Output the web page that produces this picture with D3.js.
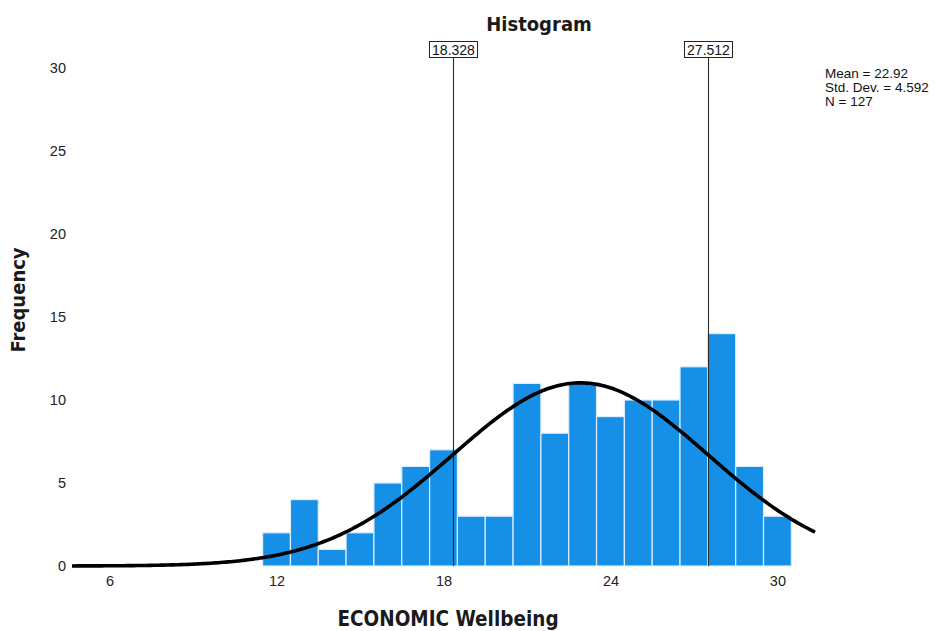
<!DOCTYPE html>
<html>
<head>
<meta charset="utf-8">
<script src="https://cdn.jsdelivr.net/npm/d3@7"></script>
<style>
  body { margin: 0; background: #fff; }
  svg { display: block; }
</style>
</head>
<body>
<svg id="chart" width="947" height="631"></svg>
<script>
// ---- data ----
const binCenters = [12, 13, 14, 15, 16, 17, 18, 19, 20, 21, 22, 23, 24, 25, 26, 27, 28, 29, 30];
const counts     = [2, 4, 1, 2, 5, 6, 7, 3, 3, 11, 8, 11, 9, 10, 10, 12, 14, 6, 3];
const binWidth = 1;
const refLines = [18.328, 27.512];
const refLabels = ["18.328", "27.512"];
const meanVal = 22.92;
const sdVal = 4.592;
const nVal = 127;
const statLabels = ["Mean = 22.92", "Std. Dev. = 4.592", "N = 127"];
const xTicks = [6, 12, 18, 24, 30];
const yTicks = [0, 5, 10, 15, 20, 25, 30];
const titleText = "Histogram";
const xTitle = "ECONOMIC Wellbeing";
const yTitle = "Frequency";

// ---- layout ----
const svg = d3.select("#chart");
const x = d3.scaleLinear().domain([4.65, 31.35]).range([72, 815]);
const y = d3.scaleLinear().domain([0, 30]).range([566, 68]);

const boldFont = "'DejaVu Sans Condensed', 'DejaVu Sans', sans-serif";
const plainFont = "'Liberation Sans', Arial, sans-serif";

// title
svg.append("text")
  .attr("x", 539).attr("y", 31)
  .attr("text-anchor", "middle")
  .attr("font-family", boldFont).attr("font-weight", "bold")
  .attr("font-stretch", "condensed")
  .attr("font-size", 20).attr("fill", "#1a1a1a")
  .text(titleText);

// bars
svg.append("g").selectAll("rect")
  .data(binCenters.map((c, i) => ({c, v: counts[i]})))
  .join("rect")
  .attr("x", d => x(d.c - binWidth / 2))
  .attr("width", d => x(d.c + binWidth / 2) - x(d.c - binWidth / 2))
  .attr("y", d => y(d.v))
  .attr("height", d => y(0) - y(d.v))
  .attr("fill", "#1590e6")
  .attr("stroke", "#dcedfb")
  .attr("stroke-width", 1.2);

// reference lines with labels
const refG = svg.append("g");
refLines.forEach((v, i) => {
  const px = Math.round(x(v)) + 0.5;
  refG.append("line")
    .attr("x1", px).attr("x2", px)
    .attr("y1", 58).attr("y2", y(0))
    .attr("stroke", "#2a2a2a").attr("stroke-width", 1.1);
  const t = refG.append("text")
    .attr("x", px).attr("y", 55)
    .attr("text-anchor", "middle")
    .attr("font-family", plainFont).attr("font-size", 14)
    .attr("fill", "#111")
    .text(refLabels[i]);
  const bb = t.node().getBBox();
  refG.insert("rect", "text")
    .attr("x", px - bb.width / 2 - 2.5).attr("y", 41.5)
    .attr("width", bb.width + 5).attr("height", 16)
    .attr("fill", "#fff").attr("stroke", "#222").attr("stroke-width", 1);
});

// normal curve
const pts = d3.range(0, 301).map(i => {
  const xv = 4.65 + (31.35 - 4.65) * i / 300;
  const z = (xv - meanVal) / sdVal;
  const yv = nVal * binWidth / (sdVal * Math.sqrt(2 * Math.PI)) * Math.exp(-0.5 * z * z);
  return [xv, yv];
});
svg.append("path")
  .datum(pts)
  .attr("d", d3.line().x(d => x(d[0])).y(d => y(d[1])))
  .attr("fill", "none").attr("stroke", "#000").attr("stroke-width", 3.6);

// y axis (labels only)
const yAxis = d3.axisLeft(y).tickValues(yTicks).tickSize(0).tickPadding(0);
const yg = svg.append("g").attr("transform", "translate(66,0)").call(yAxis);
yg.select(".domain").remove();
yg.selectAll("text").attr("font-family", plainFont).attr("font-size", 14.5).attr("fill", "#222");

// x axis (labels only)
const xAxis = d3.axisBottom(x).tickValues(xTicks).tickSize(0).tickPadding(10);
const xg = svg.append("g").attr("transform", `translate(0,${y(0)})`).call(xAxis);
xg.select(".domain").remove();
xg.selectAll("text").attr("font-family", plainFont).attr("font-size", 14.5).attr("fill", "#222");

// axis titles
svg.append("text")
  .attr("x", 448).attr("y", 626)
  .attr("text-anchor", "middle")
  .attr("font-family", boldFont).attr("font-weight", "bold")
  .attr("font-stretch", "condensed")
  .attr("font-size", 20.5).attr("fill", "#1a1a1a")
  .text(xTitle);

svg.append("text")
  .attr("transform", "translate(25,300) rotate(-90)")
  .attr("text-anchor", "middle")
  .attr("font-family", boldFont).attr("font-weight", "bold")
  .attr("font-stretch", "condensed")
  .attr("font-size", 20).attr("fill", "#1a1a1a")
  .text(yTitle);

// stats legend
svg.append("g").selectAll("text")
  .data(statLabels)
  .join("text")
  .attr("x", 825)
  .attr("y", (d, i) => 78 + i * 14)
  .attr("font-family", plainFont).attr("font-size", 13.5)
  .attr("fill", "#111")
  .text(d => d);
</script>
</body>
</html>
